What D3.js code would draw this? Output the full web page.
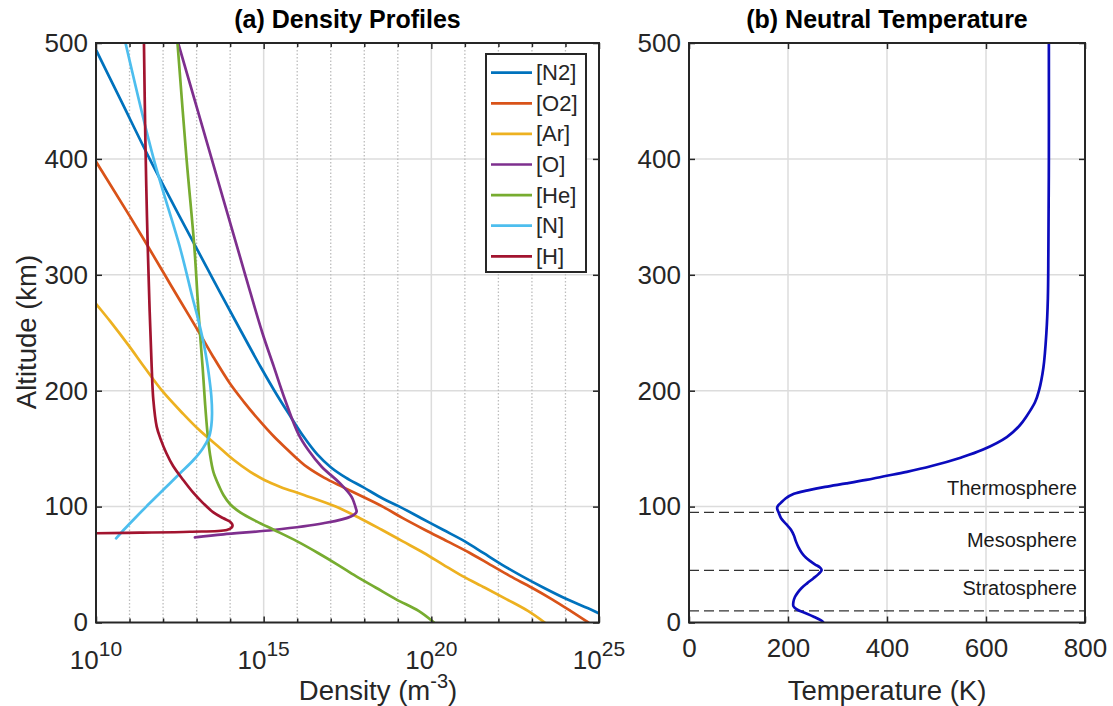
<!DOCTYPE html>
<html><head><meta charset="utf-8">
<script src="https://cdn.jsdelivr.net/npm/d3@7"></script>
<style>
body{margin:0;background:#fff;}
text{font-family:"Liberation Sans",Arial,Helvetica,sans-serif;}
</style>
</head><body>
<svg id="c" width="1113" height="706"></svg>
<script>
// ---------------- DATA ----------------
const species = ["[N2]","[O2]","[Ar]","[O]","[He]","[N]","[H]"];
const speciesColors = ["#0072BD","#D95319","#EDB120","#7E2F8E","#77AC30","#4DBEEE","#A2142F"];

// altitude (km) and log10 density (m^-3)
const n2Alt = [0,10,20,30,40,50,60,70,80,90,100,107,117,125,134,145,160,180,200,220,250,300,350,400,450,500];
const n2Exp = [25.5,24.85,24.05,23.35,22.7,22.1,21.55,21.0,20.35,19.7,19.05,18.55,17.95,17.45,17.0,16.6,16.2,15.75,15.32,14.92,14.35,13.42,12.5,11.6,10.75,9.9];

const o2Alt = [0,10,20,30,40,50,60,70,80,90,100,110,117,125,134,140,150,160,175,190,206,230,250,278,300,324,350,400,450];
const o2Exp = [24.68,24.15,23.6,23.0,22.35,21.75,21.15,20.48,19.8,19.15,18.55,17.85,17.35,16.8,16.3,16.05,15.68,15.32,14.85,14.42,14.0,13.48,13.08,12.5,12.05,11.56,11.02,9.95,8.9];

const arAlt = [0,10,20,30,40,50,60,70,80,90,100,110,117,123,130,140,150,166,180,200,220,238,260,275,300];
const arExp = [23.38,22.88,22.25,21.6,20.93,20.35,19.78,19.15,18.52,17.87,17.15,16.2,15.5,15.02,14.6,14.12,13.72,13.08,12.6,11.97,11.45,11.0,10.42,10.0,9.3];

const oAlt = [73.5,76.1,79.8,85.6,91.5,95.6,98.5,103,108.5,120,134.4,148.8,163,192,221,250,300,400,500];
const oExp = [12.95,13.8,15.29,16.78,17.6,17.77,17.75,17.7,17.62,17.28,16.73,16.33,16.03,15.64,15.3,14.96,14.45,13.45,12.45];

const heAlt = [0,10,20,30,40,50,60,70,80,87,95,102,110,117,130,145,165,190,220,250,280,325,400,500];
const heExp = [20.08,19.62,18.95,18.35,17.75,17.2,16.62,16.0,15.3,14.8,14.3,14.0,13.8,13.68,13.5,13.4,13.32,13.25,13.18,13.1,13.03,12.93,12.7,12.43];

const nAlt = [72.6,80,90,100,110,120,130,140,150,160,170,180,195,215,235,260,280,324,400,500];
const nExp = [10.6,10.83,11.16,11.5,11.85,12.2,12.55,12.9,13.18,13.37,13.44,13.46,13.44,13.36,13.25,13.06,12.88,12.5,11.72,10.88];

const hAlt = [76.5,77,77.5,78.3,79.8,82,84.1,87,89.9,95,102.8,112,123,135,146,158,169,192,221,278,350,420,500];
const hExp = [9.5,10.0,11.31,12.8,13.9,14.05,14.07,14.0,13.8,13.5,13.2,12.9,12.6,12.3,12.1,11.93,11.81,11.71,11.66,11.59,11.52,11.47,11.43];

// neutral temperature profile
const tempAlt = [0,2,5,8,11,14,18,22,26,30,34,38,42,45.3,48,50,53,56,60,65,70,75,80,85,90,95,97,99,101,103,107,111,114,117,120,123,126,130,135,142,149,160,170,178,190,200,220,250,280,320,400,500];
const tempK   = [272,266,252,236,219,211,211,214,220,228,239,251,262,268,263,255,245,236,228,221,216,212,206,196,186,181,179,178,180,185,195,212,240,275,318,358,392,440,490,547,593,642,668,682,699,707,716,722,725,726,727,727];

const layerAlts = [95,45,10];
const layerNames = ["Thermosphere","Mesosphere","Stratosphere"];
const layerLabelAlts = [116,71,30];

const altTicks = [0,100,200,300,400,500];
const densMajorExp = [10,15,20,25];
const densMinorExp = [11,12,13,14,16,17,18,19,21,22,23,24];
const tempTicks = [0,200,400,600,800];

const titles = ["(a) Density Profiles","(b) Neutral Temperature"];

// ---------------- DRAW ----------------
const svg = d3.select("#c");
const AX = "#262626", GRID = "#dcdcdc", MINOR = "#bdbdbd";
const L = {x0:96, x1:599, y0:43, y1:622.5};
const R = {x0:689, x1:1085, y0:43, y1:622.5};

const y = d3.scaleLinear().domain([0,500]).range([L.y1, L.y0]);
const xd = d3.scaleLog().domain([1e10,1e25]).range([L.x0, L.x1]);
const xt = d3.scaleLinear().domain([0,800]).range([R.x0, R.x1]);

const defs = svg.append("defs");
defs.append("clipPath").attr("id","clipL").append("rect")
  .attr("x",L.x0).attr("y",L.y0).attr("width",L.x1-L.x0).attr("height",L.y1-L.y0);
defs.append("clipPath").attr("id","clipR").append("rect")
  .attr("x",R.x0).attr("y",R.y0).attr("width",R.x1-R.x0).attr("height",R.y1-R.y0);

function styleAxis(g){
  g.select(".domain").remove();
  g.selectAll(".tick line").attr("stroke",AX).attr("stroke-width",1.5);
  g.selectAll(".tick text").attr("fill",AX).attr("font-size",26)
   .style("font-family","'Liberation Sans',Arial,sans-serif");
}

// ---- grids ----
svg.append("g").selectAll("line").data(altTicks.slice(1,-1)).join("line")
  .attr("x1",L.x0).attr("x2",L.x1).attr("y1",d=>y(d)).attr("y2",d=>y(d))
  .attr("stroke",GRID).attr("stroke-width",1.5);
svg.append("g").selectAll("line").data(densMinorExp).join("line")
  .attr("x1",d=>xd(Math.pow(10,d))).attr("x2",d=>xd(Math.pow(10,d)))
  .attr("y1",L.y0).attr("y2",L.y1)
  .attr("stroke",MINOR).attr("stroke-width",1.3).attr("stroke-dasharray","1.5,2");
svg.append("g").selectAll("line").data(densMajorExp.slice(1,-1)).join("line")
  .attr("x1",d=>xd(Math.pow(10,d))).attr("x2",d=>xd(Math.pow(10,d)))
  .attr("y1",L.y0).attr("y2",L.y1)
  .attr("stroke",GRID).attr("stroke-width",1.5);
svg.append("g").selectAll("line").data(altTicks.slice(1,-1)).join("line")
  .attr("x1",R.x0).attr("x2",R.x1).attr("y1",d=>y(d)).attr("y2",d=>y(d))
  .attr("stroke",GRID).attr("stroke-width",1.5);
svg.append("g").selectAll("line").data(tempTicks.slice(1,-1)).join("line")
  .attr("x1",d=>xt(d)).attr("x2",d=>xt(d)).attr("y1",R.y0).attr("y2",R.y1)
  .attr("stroke",GRID).attr("stroke-width",1.5);

// ---- density curves ----
const alts = [n2Alt,o2Alt,arAlt,oAlt,heAlt,nAlt,hAlt];
const exps = [n2Exp,o2Exp,arExp,oExp,heExp,nExp,hExp];
const densLine = d3.line().x(d=>xd(d.dens)).y(d=>y(d.alt)).curve(d3.curveCatmullRom.alpha(0.5));
const gL = svg.append("g").attr("clip-path","url(#clipL)");
species.forEach((s,i)=>{
  const pts = alts[i].map((a,j)=>({alt:a, dens:Math.pow(10,exps[i][j])}));
  gL.append("path").datum(pts).attr("d",densLine)
    .attr("fill","none").attr("stroke",speciesColors[i]).attr("stroke-width",2.7)
    .attr("stroke-linejoin","round").attr("stroke-linecap","round");
});

// ---- temperature ----
const gR = svg.append("g").attr("clip-path","url(#clipR)");
layerAlts.forEach(a=>{
  gR.append("line").attr("x1",R.x0).attr("x2",R.x1).attr("y1",y(a)).attr("y2",y(a))
    .attr("stroke","#333").attr("stroke-width",1.4).attr("stroke-dasharray","10,5");
});
const tPts = tempAlt.map((a,j)=>({alt:a,t:tempK[j]}));
gR.append("path").datum(tPts)
  .attr("d",d3.line().x(d=>xt(d.t)).y(d=>y(d.alt)).curve(d3.curveCatmullRom.alpha(0.5)))
  .attr("fill","none").attr("stroke","#0b0bbd").attr("stroke-width",2.7);
layerNames.forEach((n,i)=>{
  svg.append("text").attr("x",R.x1-8).attr("y",y(layerLabelAlts[i]))
    .attr("text-anchor","end").attr("dominant-baseline","central")
    .attr("font-size",20).attr("fill","#1a1a1a").text(n);
});

// ---- axes: left ----
svg.append("g").attr("transform",`translate(${L.x0},0)`)
  .call(d3.axisLeft(y).tickValues(altTicks).tickSize(-6).tickPadding(8)).call(styleAxis);
svg.append("g").attr("transform",`translate(${L.x1},0)`)
  .call(d3.axisRight(y).tickValues(altTicks).tickSize(-6).tickFormat("")).call(styleAxis);
const majVals = densMajorExp.map(e=>Math.pow(10,e));
const minVals = densMinorExp.map(e=>Math.pow(10,e));
svg.append("g").attr("transform",`translate(0,${L.y1})`)
  .call(d3.axisBottom(xd).tickValues(majVals).tickSize(-6).tickFormat("")).call(styleAxis);
svg.append("g").attr("transform",`translate(0,${L.y1})`)
  .call(d3.axisBottom(xd).tickValues(minVals).tickSize(-4).tickFormat("")).call(styleAxis);
svg.append("g").attr("transform",`translate(0,${L.y0})`)
  .call(d3.axisTop(xd).tickValues(majVals).tickSize(-6).tickFormat("")).call(styleAxis);
svg.append("g").attr("transform",`translate(0,${L.y0})`)
  .call(d3.axisTop(xd).tickValues(minVals).tickSize(-4).tickFormat("")).call(styleAxis);
densMajorExp.forEach(e=>{
  const t = svg.append("text").attr("x",xd(Math.pow(10,e))).attr("y",669)
    .attr("text-anchor","middle").attr("fill",AX).attr("font-size",26);
  t.append("tspan").text("10");
  t.append("tspan").attr("dy",-13).attr("font-size",21).text(String(e));
});

// ---- axes: right ----
svg.append("g").attr("transform",`translate(${R.x0},0)`)
  .call(d3.axisLeft(y).tickValues(altTicks).tickSize(-6).tickPadding(8)).call(styleAxis);
svg.append("g").attr("transform",`translate(${R.x1},0)`)
  .call(d3.axisRight(y).tickValues(altTicks).tickSize(-6).tickFormat("")).call(styleAxis);
svg.append("g").attr("transform",`translate(0,${R.y1})`)
  .call(d3.axisBottom(xt).tickValues(tempTicks).tickSize(-6).tickPadding(16)).call(styleAxis);
svg.append("g").attr("transform",`translate(0,${R.y0})`)
  .call(d3.axisTop(xt).tickValues(tempTicks).tickSize(-6).tickFormat("")).call(styleAxis);

[L,R].forEach(p=>{
  svg.append("rect").attr("x",p.x0).attr("y",p.y0).attr("width",p.x1-p.x0).attr("height",p.y1-p.y0)
    .attr("fill","none").attr("stroke",AX).attr("stroke-width",2);
});

// ---- legend ----
const lg = svg.append("g");
lg.append("rect").attr("x",486).attr("y",54).attr("width",100).attr("height",218)
  .attr("fill","#fff").attr("stroke",AX).attr("stroke-width",2);
species.forEach((s,i)=>{
  const yy = 72.7 + i*30.6;
  lg.append("line").attr("x1",491).attr("x2",532).attr("y1",yy).attr("y2",yy)
    .attr("stroke",speciesColors[i]).attr("stroke-width",2.7);
  lg.append("text").attr("x",536).attr("y",yy).attr("dominant-baseline","central")
    .attr("font-size",22).attr("fill",AX).text(s);
});

// ---- titles & labels ----
svg.append("text").attr("x",(L.x0+L.x1)/2).attr("y",28).attr("text-anchor","middle")
  .attr("font-size",25).attr("font-weight","bold").attr("fill","#000").text(titles[0]);
svg.append("text").attr("x",(R.x0+R.x1)/2).attr("y",28).attr("text-anchor","middle")
  .attr("font-size",25).attr("font-weight","bold").attr("fill","#000").text(titles[1]);

const xl = svg.append("text").attr("x",378).attr("y",700).attr("text-anchor","middle")
  .attr("font-size",27.5).attr("fill",AX);
xl.append("tspan").text("Density (m");
xl.append("tspan").attr("dy",-12).attr("font-size",20).text("-3");
xl.append("tspan").attr("dy",12).text(")");

svg.append("text").attr("x",(R.x0+R.x1)/2).attr("y",700).attr("text-anchor","middle")
  .attr("font-size",27.5).attr("fill",AX).text("Temperature (K)");

svg.append("text").attr("transform",`translate(36,332) rotate(-90)`).attr("text-anchor","middle")
  .attr("font-size",27.5).attr("fill",AX).text("Altitude (km)");
</script>
</body></html>
